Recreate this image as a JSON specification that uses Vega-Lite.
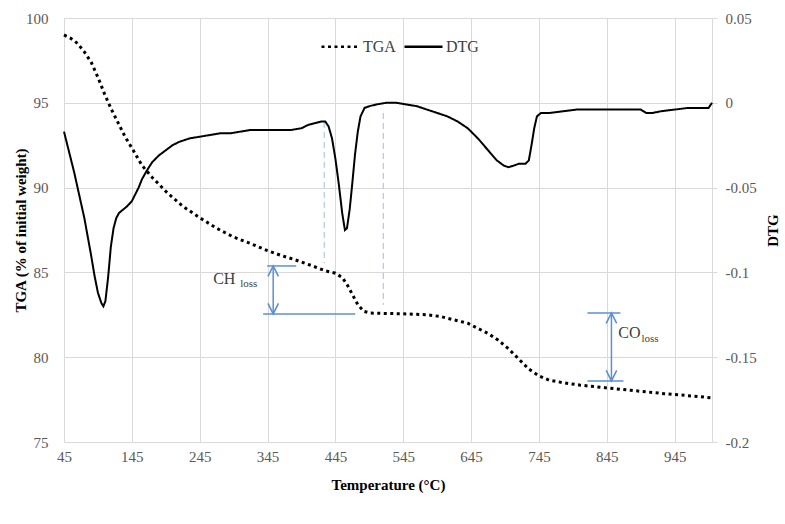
{
  "$schema": "https://vega.github.io/schema/vega-lite/v6.json",
  "width": 648,
  "height": 424,
  "autosize": {"type": "none"},
  "padding": {"left": 64, "top": 18, "right": 73, "bottom": 82},
  "background": "white",
  "config": {
    "font": "Liberation Serif",
    "view": {"stroke": null},
    "axis": {
      "labelFont": "Liberation Serif",
      "labelFontSize": 15,
      "labelColor": "#595959",
      "titleFont": "Liberation Serif",
      "titleFontSize": 15,
      "titleFontWeight": "bold",
      "titleColor": "#000000",
      "gridColor": "#d9d9d9",
      "gridWidth": 1,
      "domainColor": "#d9d9d9",
      "tickColor": "#d9d9d9"
    }
  },
  "datasets": {
    "tga": [
      {"T": 45, "TGA": 99.0, "series": "TGA"}, {"T": 55, "TGA": 98.8, "series": "TGA"}, {"T": 65, "TGA": 98.5, "series": "TGA"},
      {"T": 75, "TGA": 98.0, "series": "TGA"}, {"T": 85, "TGA": 97.4, "series": "TGA"}, {"T": 95, "TGA": 96.5, "series": "TGA"},
      {"T": 105, "TGA": 95.5, "series": "TGA"}, {"T": 115, "TGA": 94.6, "series": "TGA"}, {"T": 125, "TGA": 93.8, "series": "TGA"},
      {"T": 135, "TGA": 93.0, "series": "TGA"}, {"T": 147, "TGA": 92.2, "series": "TGA"}, {"T": 160, "TGA": 91.3, "series": "TGA"},
      {"T": 175, "TGA": 90.6, "series": "TGA"}, {"T": 197, "TGA": 89.7, "series": "TGA"}, {"T": 220, "TGA": 88.9, "series": "TGA"},
      {"T": 246, "TGA": 88.2, "series": "TGA"}, {"T": 270, "TGA": 87.6, "series": "TGA"}, {"T": 294, "TGA": 87.1, "series": "TGA"},
      {"T": 320, "TGA": 86.7, "series": "TGA"}, {"T": 344, "TGA": 86.3, "series": "TGA"}, {"T": 365, "TGA": 86.0, "series": "TGA"},
      {"T": 385, "TGA": 85.75, "series": "TGA"}, {"T": 410, "TGA": 85.4, "series": "TGA"}, {"T": 430, "TGA": 85.1, "series": "TGA"},
      {"T": 445, "TGA": 84.95, "series": "TGA"}, {"T": 455, "TGA": 84.7, "series": "TGA"}, {"T": 462, "TGA": 84.3, "series": "TGA"},
      {"T": 470, "TGA": 83.7, "series": "TGA"}, {"T": 478, "TGA": 83.1, "series": "TGA"}, {"T": 487, "TGA": 82.7, "series": "TGA"},
      {"T": 497, "TGA": 82.6, "series": "TGA"}, {"T": 520, "TGA": 82.58, "series": "TGA"}, {"T": 550, "TGA": 82.55, "series": "TGA"},
      {"T": 580, "TGA": 82.5, "series": "TGA"}, {"T": 600, "TGA": 82.4, "series": "TGA"}, {"T": 620, "TGA": 82.2, "series": "TGA"},
      {"T": 640, "TGA": 82.0, "series": "TGA"}, {"T": 655, "TGA": 81.7, "series": "TGA"}, {"T": 670, "TGA": 81.4, "series": "TGA"},
      {"T": 685, "TGA": 81.0, "series": "TGA"}, {"T": 700, "TGA": 80.5, "series": "TGA"}, {"T": 715, "TGA": 79.9, "series": "TGA"},
      {"T": 730, "TGA": 79.3, "series": "TGA"}, {"T": 745, "TGA": 78.9, "series": "TGA"}, {"T": 760, "TGA": 78.65, "series": "TGA"},
      {"T": 780, "TGA": 78.5, "series": "TGA"}, {"T": 806, "TGA": 78.35, "series": "TGA"}, {"T": 830, "TGA": 78.25, "series": "TGA"},
      {"T": 855, "TGA": 78.15, "series": "TGA"}, {"T": 880, "TGA": 78.05, "series": "TGA"}, {"T": 905, "TGA": 77.95, "series": "TGA"},
      {"T": 930, "TGA": 77.85, "series": "TGA"}, {"T": 960, "TGA": 77.75, "series": "TGA"}, {"T": 980, "TGA": 77.68, "series": "TGA"},
      {"T": 1000, "TGA": 77.6, "series": "TGA"}
    ],
    "dtg": [
      {"T": 45, "DTG": -0.017, "series": "DTG"}, {"T": 50, "DTG": -0.025, "series": "DTG"}, {"T": 55, "DTG": -0.033, "series": "DTG"},
      {"T": 60, "DTG": -0.041, "series": "DTG"}, {"T": 65, "DTG": -0.05, "series": "DTG"}, {"T": 70, "DTG": -0.059, "series": "DTG"},
      {"T": 75, "DTG": -0.068, "series": "DTG"}, {"T": 80, "DTG": -0.079, "series": "DTG"}, {"T": 85, "DTG": -0.09, "series": "DTG"},
      {"T": 90, "DTG": -0.102, "series": "DTG"}, {"T": 95, "DTG": -0.112, "series": "DTG"}, {"T": 100, "DTG": -0.118, "series": "DTG"},
      {"T": 103, "DTG": -0.12, "series": "DTG"}, {"T": 106, "DTG": -0.117, "series": "DTG"}, {"T": 110, "DTG": -0.103, "series": "DTG"},
      {"T": 114, "DTG": -0.085, "series": "DTG"}, {"T": 118, "DTG": -0.074, "series": "DTG"}, {"T": 122, "DTG": -0.068, "series": "DTG"},
      {"T": 126, "DTG": -0.065, "series": "DTG"}, {"T": 132, "DTG": -0.063, "series": "DTG"}, {"T": 138, "DTG": -0.061, "series": "DTG"},
      {"T": 145, "DTG": -0.058, "series": "DTG"}, {"T": 150, "DTG": -0.054, "series": "DTG"}, {"T": 155, "DTG": -0.05, "series": "DTG"},
      {"T": 160, "DTG": -0.045, "series": "DTG"}, {"T": 167, "DTG": -0.04, "series": "DTG"}, {"T": 175, "DTG": -0.035, "series": "DTG"},
      {"T": 185, "DTG": -0.031, "series": "DTG"}, {"T": 195, "DTG": -0.028, "series": "DTG"}, {"T": 205, "DTG": -0.025, "series": "DTG"},
      {"T": 215, "DTG": -0.023, "series": "DTG"}, {"T": 230, "DTG": -0.021, "series": "DTG"}, {"T": 245, "DTG": -0.02, "series": "DTG"},
      {"T": 260, "DTG": -0.019, "series": "DTG"}, {"T": 275, "DTG": -0.018, "series": "DTG"}, {"T": 290, "DTG": -0.018, "series": "DTG"},
      {"T": 305, "DTG": -0.017, "series": "DTG"}, {"T": 320, "DTG": -0.016, "series": "DTG"}, {"T": 335, "DTG": -0.016, "series": "DTG"},
      {"T": 350, "DTG": -0.016, "series": "DTG"}, {"T": 365, "DTG": -0.016, "series": "DTG"}, {"T": 380, "DTG": -0.016, "series": "DTG"},
      {"T": 395, "DTG": -0.015, "series": "DTG"}, {"T": 405, "DTG": -0.013, "series": "DTG"}, {"T": 415, "DTG": -0.012, "series": "DTG"},
      {"T": 425, "DTG": -0.011, "series": "DTG"}, {"T": 430, "DTG": -0.011, "series": "DTG"}, {"T": 435, "DTG": -0.014, "series": "DTG"},
      {"T": 440, "DTG": -0.021, "series": "DTG"}, {"T": 445, "DTG": -0.033, "series": "DTG"}, {"T": 450, "DTG": -0.048, "series": "DTG"},
      {"T": 455, "DTG": -0.065, "series": "DTG"}, {"T": 459, "DTG": -0.075, "series": "DTG"}, {"T": 462, "DTG": -0.074, "series": "DTG"},
      {"T": 466, "DTG": -0.063, "series": "DTG"}, {"T": 470, "DTG": -0.047, "series": "DTG"}, {"T": 474, "DTG": -0.03, "series": "DTG"},
      {"T": 478, "DTG": -0.017, "series": "DTG"}, {"T": 482, "DTG": -0.008, "series": "DTG"}, {"T": 488, "DTG": -0.003, "series": "DTG"},
      {"T": 495, "DTG": -0.002, "series": "DTG"}, {"T": 505, "DTG": -0.001, "series": "DTG"}, {"T": 520, "DTG": 0.0, "series": "DTG"},
      {"T": 535, "DTG": 0.0, "series": "DTG"}, {"T": 550, "DTG": -0.001, "series": "DTG"}, {"T": 565, "DTG": -0.002, "series": "DTG"},
      {"T": 580, "DTG": -0.004, "series": "DTG"}, {"T": 595, "DTG": -0.006, "series": "DTG"}, {"T": 610, "DTG": -0.008, "series": "DTG"},
      {"T": 625, "DTG": -0.011, "series": "DTG"}, {"T": 640, "DTG": -0.015, "series": "DTG"}, {"T": 655, "DTG": -0.021, "series": "DTG"},
      {"T": 670, "DTG": -0.028, "series": "DTG"}, {"T": 683, "DTG": -0.034, "series": "DTG"}, {"T": 693, "DTG": -0.037, "series": "DTG"},
      {"T": 700, "DTG": -0.038, "series": "DTG"}, {"T": 708, "DTG": -0.037, "series": "DTG"}, {"T": 715, "DTG": -0.036, "series": "DTG"},
      {"T": 725, "DTG": -0.036, "series": "DTG"}, {"T": 730, "DTG": -0.034, "series": "DTG"}, {"T": 734, "DTG": -0.025, "series": "DTG"},
      {"T": 738, "DTG": -0.015, "series": "DTG"}, {"T": 742, "DTG": -0.008, "series": "DTG"}, {"T": 748, "DTG": -0.006, "series": "DTG"},
      {"T": 760, "DTG": -0.006, "series": "DTG"}, {"T": 780, "DTG": -0.005, "series": "DTG"}, {"T": 800, "DTG": -0.004, "series": "DTG"},
      {"T": 820, "DTG": -0.004, "series": "DTG"}, {"T": 840, "DTG": -0.004, "series": "DTG"}, {"T": 860, "DTG": -0.004, "series": "DTG"},
      {"T": 880, "DTG": -0.004, "series": "DTG"}, {"T": 895, "DTG": -0.004, "series": "DTG"}, {"T": 903, "DTG": -0.006, "series": "DTG"},
      {"T": 912, "DTG": -0.006, "series": "DTG"}, {"T": 925, "DTG": -0.005, "series": "DTG"}, {"T": 945, "DTG": -0.004, "series": "DTG"},
      {"T": 965, "DTG": -0.003, "series": "DTG"}, {"T": 985, "DTG": -0.003, "series": "DTG"}, {"T": 995, "DTG": -0.003, "series": "DTG"},
      {"T": 1000, "DTG": 0.0, "series": "DTG"}
    ],
    "vlines": [
      {"T": 428.5, "TGA": 93.87, "TGA2": 85.55},
      {"T": 515.5, "TGA": 94.4, "TGA2": 83.08}
    ],
    "hlines": [
      {"T": 344.4, "T2": 387.2, "TGA": 85.38},
      {"T": 338.5, "T2": 474.2, "TGA": 82.55},
      {"T": 816.4, "T2": 865, "TGA": 82.61},
      {"T": 816.4, "T2": 869.5, "TGA": 78.6}
    ],
    "arrows": [
      {"T": 353.3, "TGA": 85.38, "TGA2": 82.55},
      {"T": 851.8, "TGA": 82.61, "TGA2": 78.6}
    ],
    "heads": [
      {"T": 353.3, "TGA": 85.38, "dir": "up"},
      {"T": 353.3, "TGA": 82.55, "dir": "down"},
      {"T": 851.8, "TGA": 82.61, "dir": "up"},
      {"T": 851.8, "TGA": 78.6, "dir": "down"}
    ],
    "labels": [
      {"T": 264.8, "TGA": 84.61, "text": "CH"},
      {"T": 862, "TGA": 81.43, "text": "CO"}
    ],
    "subs": [
      {"T": 304.6, "TGA": 84.32, "text": "loss"},
      {"T": 896, "TGA": 81.07, "text": "loss"}
    ]
  },
  "encoding": {
    "x": {
      "field": "T",
      "type": "quantitative",
      "scale": {"domain": [45, 1000], "nice": false, "zero": false},
      "axis": {
        "values": [45, 145, 245, 345, 445, 545, 645, 745, 845, 945],
        "grid": true,
        "domain": true,
        "ticks": false,
        "labelPadding": 7,
        "labelFlush": false,
        "labelFont": "Liberation Serif",
        "labelFontSize": 15,
        "labelColor": "#595959",
        "title": "Temperature (°C)",
        "titleFont": "Liberation Serif",
        "titleFontSize": 15,
        "titleFontWeight": "bold",
        "titleColor": "#000000",
        "titlePadding": 13
      }
    }
  },
  "layer": [
    {
      "encoding": {
        "y": {
          "field": "TGA",
          "type": "quantitative",
          "scale": {"domain": [75, 100], "nice": false, "zero": false},
          "axis": {
            "orient": "left",
            "values": [75, 80, 85, 90, 95, 100],
            "grid": true,
            "domain": false,
            "ticks": false,
            "labelPadding": 16,
            "labelFont": "Liberation Serif",
            "labelFontSize": 15,
            "labelColor": "#595959",
            "title": "TGA (% of initial weight)",
            "titleFont": "Liberation Serif",
            "titleFontSize": 15,
            "titleFontWeight": "bold",
            "titleColor": "#000000",
            "titlePadding": -3
          }
        }
      },
      "layer": [
        {
          "data": {"name": "vlines"},
          "mark": {"type": "rule", "color": "#9dbde6", "strokeWidth": 1, "strokeDash": [6, 4]},
          "encoding": {"y2": {"field": "TGA2"}}
        },
        {
          "data": {"name": "tga"},
          "mark": {"type": "line", "color": "#000000", "strokeWidth": 3},
          "encoding": {
            "strokeDash": {
              "field": "series",
              "type": "nominal",
              "scale": {"domain": ["TGA", "DTG"], "range": [[3, 3.5], [1, 0]]},
              "legend": {
                "title": null,
                "orient": "none",
                "legendX": 256,
                "legendY": 8,
                "direction": "horizontal",
                "symbolType": "stroke",
                "symbolSize": 1444,
                "symbolStrokeColor": "#000000",
                "symbolStrokeWidth": 2.5,
                "labelFont": "Liberation Serif",
                "labelFontSize": 16,
                "labelColor": "#404040",
                "labelOffset": 2,
                "columnPadding": 3
              }
            }
          }
        },
        {
          "data": {"name": "hlines"},
          "mark": {"type": "rule", "color": "#5b8fd4", "strokeWidth": 1.5},
          "encoding": {"x2": {"field": "T2"}}
        },
        {
          "data": {"name": "arrows"},
          "mark": {"type": "rule", "color": "#5b8fd4", "strokeWidth": 1.5},
          "encoding": {"y2": {"field": "TGA2"}}
        },
        {
          "data": {"name": "heads"},
          "mark": {"type": "point", "filled": false, "color": "#5b8fd4", "strokeWidth": 1.6, "size": 110, "opacity": 1},
          "encoding": {
            "shape": {
              "field": "dir",
              "type": "nominal",
              "scale": {"domain": ["up", "down"], "range": ["M-1,2L0,0L1,2", "M-1,-2L0,0L1,-2"]},
              "legend": null
            }
          }
        },
        {
          "data": {"name": "labels"},
          "mark": {"type": "text", "align": "left", "baseline": "middle", "fontSize": 16, "color": "#404040", "font": "Liberation Serif"},
          "encoding": {"text": {"field": "text"}}
        },
        {
          "data": {"name": "subs"},
          "mark": {"type": "text", "align": "left", "baseline": "middle", "fontSize": 11, "color": "#404040", "font": "Liberation Serif"},
          "encoding": {"text": {"field": "text"}}
        }
      ]
    },
    {
      "data": {"name": "dtg"},
      "mark": {"type": "line", "color": "#000000", "strokeWidth": 2},
      "encoding": {
        "y": {
          "field": "DTG",
          "type": "quantitative",
          "scale": {"domain": [-0.2, 0.05], "nice": false, "zero": false},
          "axis": {
            "orient": "right",
            "values": [-0.2, -0.15, -0.1, -0.05, 0, 0.05],
            "grid": false,
            "domain": true,
            "ticks": true,
            "tickSize": 5,
            "labelPadding": 8,
            "labelFont": "Liberation Serif",
            "labelFontSize": 15,
            "labelColor": "#595959",
            "labelExpr": "toString(datum.value)",
            "title": "DTG",
            "titleFont": "Liberation Serif",
            "titleFontSize": 15,
            "titleFontWeight": "bold",
            "titleColor": "#000000",
            "titleAngle": -90,
            "titlePadding": 24
          }
        },
        "strokeDash": {"field": "series", "type": "nominal"}
      }
    }
  ],
  "resolve": {"scale": {"y": "independent"}}
}
